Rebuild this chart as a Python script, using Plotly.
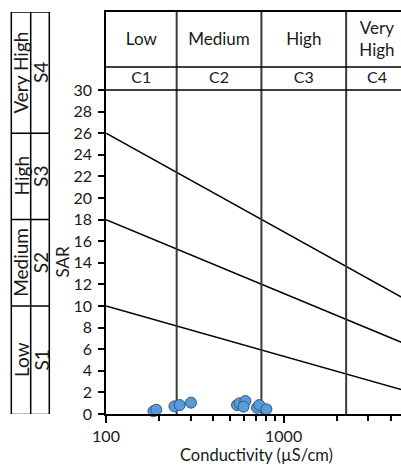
import plotly.graph_objects as go

# ---- data ----
ec = [185, 192, 243, 260, 301, 547, 565, 609, 595, 708, 729, 800]
sar = [0.25, 0.40, 0.71, 0.83, 1.05, 0.83, 0.99, 1.20, 0.68, 0.58, 0.83, 0.44]

line_x = [100, 5000]
line_s1s2 = [10, 2.1]
line_s2s3 = [18, 6.4]
line_s3s4 = [26, 10.5]

c_edges = [100, 250, 750, 2250, 5000]
c_codes = ["C1", "C2", "C3", "C4"]
c_names = ["Low", "Medium", "High", "Very<br>High"]

s_edges = [0, 10, 18, 26]
s_codes = ["S1", "S2", "S3", "S4"]
s_names = ["Low", "Medium", "High", "Very High"]

y_ticks = list(range(0, 31, 2))
x_major = [100, 1000]
x_major_text = ["100", "1000"]
x_minor = [200, 300, 400, 500, 600, 700, 800, 900, 2000, 3000, 4000]

# ---- layout constants ----
W, H = 401, 466
L, R, T, B = 106, 0, 12, 52
PX_PER_SAR = 10.8
Y_TOP = (H - T - B) / PX_PER_SAR          # top of table in SAR units
Y_TABLE_BOTTOM = 30
Y_TABLE_MID = (414 - 67) / PX_PER_SAR
Y_HEAD_TEXT = (414 - 41) / PX_PER_SAR
Y_CODE_TEXT = (414 - 78.5) / PX_PER_SAR
X_LOG_MAX = 2 + 295 / 177.6

FONT = "Lato"
BLACK = "#000000"
TXT = "#1a1a1a"

def paper_x(px):
    return (px - L) / (W - L - R)

fig = go.Figure()

# diagonal class boundary lines
for ys in (line_s1s2, line_s2s3, line_s3s4):
    fig.add_trace(go.Scatter(x=line_x, y=ys, mode="lines",
                             line=dict(color=BLACK, width=1.5),
                             hoverinfo="skip", showlegend=False))

# vertical conductivity boundaries (through plot and table)
vx, vy = [], []
for e in c_edges[1:-1]:
    vx += [e, e, None]
    vy += [0, Y_TOP, None]
fig.add_trace(go.Scatter(x=vx, y=vy, mode="lines",
                         line=dict(color="#3a3a3a", width=2),
                         hoverinfo="skip", showlegend=False))

# table horizontal lines
fig.add_trace(go.Scatter(x=[c_edges[0], c_edges[-1], None, c_edges[0], c_edges[-1]],
                         y=[Y_TABLE_BOTTOM, Y_TABLE_BOTTOM, None, Y_TABLE_MID, Y_TABLE_MID],
                         mode="lines", line=dict(color=BLACK, width=1.5),
                         hoverinfo="skip", showlegend=False))

# table text
centers = [(a * b) ** 0.5 for a, b in zip(c_edges[:-1], c_edges[1:])]
fig.add_trace(go.Scatter(x=centers, y=[Y_HEAD_TEXT] * 4, mode="text", text=c_names,
                         textfont=dict(family=FONT, size=17, color=TXT),
                         textposition="middle center", cliponaxis=False,
                         hoverinfo="skip", showlegend=False))
fig.add_trace(go.Scatter(x=centers, y=[Y_CODE_TEXT] * 4, mode="text", text=c_codes,
                         textfont=dict(family=FONT, size=16, color=TXT),
                         textposition="middle center", cliponaxis=False,
                         hoverinfo="skip", showlegend=False))

# samples
fig.add_trace(go.Scatter(x=ec, y=sar, mode="markers",
                         marker=dict(size=11, color="#5B9BD5",
                                     line=dict(color="#2B5A8C", width=1)),
                         cliponaxis=False, showlegend=False))

# left S table
shapes = []
xl, xm, xr = paper_x(11.3), paper_x(30.7), paper_x(49.3)
lw = dict(color=BLACK, width=1.5)
for xx in (xl, xm, xr):
    shapes.append(dict(type="line", xref="paper", yref="y", x0=xx, x1=xx,
                       y0=-0.05, y1=Y_TOP, line=lw))
for yy in s_edges[1:]:
    shapes.append(dict(type="line", xref="paper", yref="y", x0=xl, x1=xr,
                       y0=yy, y1=yy, line=lw))
shapes.append(dict(type="line", xref="paper", yref="y", x0=xl, x1=xr,
                   y0=-0.05, y1=-0.05, line=lw))
shapes.append(dict(type="line", xref="paper", yref="y", x0=xl, x1=xr,
                   y0=Y_TOP, y1=Y_TOP, line=lw))

annotations = []
s_tops = s_edges[1:] + [Y_TOP]
for lo, hi, nm, cd in zip(s_edges, s_tops, s_names, s_codes):
    yc = (lo + hi) / 2
    annotations.append(dict(x=paper_x(21), y=yc, xref="paper", yref="y", text=nm,
                            textangle=-90, showarrow=False,
                            font=dict(family=FONT, size=19, color=TXT),
                            xanchor="center", yanchor="middle"))
    annotations.append(dict(x=paper_x(40.5), y=yc, xref="paper", yref="y", text=cd,
                            textangle=-90, showarrow=False,
                            font=dict(family=FONT, size=19, color=TXT),
                            xanchor="center", yanchor="middle"))

annotations.append(dict(x=paper_x(62), y=(414 - 261.5) / PX_PER_SAR, xref="paper", yref="y",
                        text="SAR", textangle=-90, showarrow=False,
                        font=dict(family=FONT, size=17, color=TXT),
                        xanchor="center", yanchor="middle"))
annotations.append(dict(x=paper_x(256.5), y=(414 - 455) / (H - T - B), xref="paper", yref="paper",
                        text="Conductivity (µS/cm)", showarrow=False,
                        font=dict(family=FONT, size=16.5, color=TXT),
                        xanchor="center", yanchor="middle"))

fig.update_layout(
    width=W, height=H,
    margin=dict(l=L, r=R, t=T, b=B, pad=0),
    paper_bgcolor="white", plot_bgcolor="white",
    font=dict(family=FONT, size=16, color=TXT),
    shapes=shapes, annotations=annotations,
    xaxis=dict(type="log", range=[2, X_LOG_MAX],
               tickvals=x_major, ticktext=x_major_text,
               ticks="outside", ticklen=7, tickwidth=1.5, tickcolor=BLACK,
               minor=dict(tickvals=x_minor, ticks="outside", ticklen=5,
                          tickwidth=1.5, tickcolor=BLACK, showgrid=False),
               showline=True, linecolor=BLACK, linewidth=1.5, mirror=True,
               showgrid=False, zeroline=False,
               tickfont=dict(family=FONT, size=16, color=TXT)),
    yaxis=dict(range=[0, Y_TOP], tickvals=y_ticks,
               ticks="outside", ticklen=6, tickwidth=1.5, tickcolor=BLACK,
               ticklabelstandoff=3,
               showline=True, linecolor=BLACK, linewidth=1.5,
               showgrid=False, zeroline=False,
               tickfont=dict(family=FONT, size=16, color=TXT)),
)

fig.write_html("out.html")
